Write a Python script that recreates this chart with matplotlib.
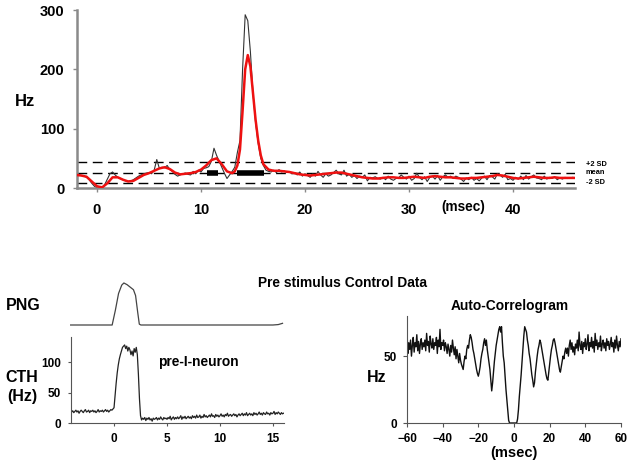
import numpy as np
import matplotlib
matplotlib.use("Agg")
import matplotlib.pyplot as plt

plt.rcParams['font.family'] = ['Liberation Sans', 'DejaVu Sans']
plt.rcParams['font.weight'] = 'bold'

# ---------------- top panel data ----------------
raw_t0, raw_dt = -2.0, 0.25
raw_hz = [
    22, 22, 21, 20, 18, 14, 8, 3,
    0, 0, 1, 6, 15, 24, 27, 22,
    18, 16, 14, 12, 11, 12, 14, 17,
    20, 22, 24, 25, 26, 24, 30, 48,
    33, 35, 34, 38, 31, 28, 23, 20,
    22, 24, 25, 23, 22, 28, 24, 30,
    27, 33, 34, 36, 45, 67, 55, 45,
    35, 25, 16, 22, 28, 35, 60, 80,
    200, 292, 282, 230, 160, 110, 75, 50,
    38, 30, 28, 27, 30, 26, 31, 27,
    29, 26, 27, 24, 26, 22, 27, 20,
    24, 21, 18, 24, 20, 28, 22, 18,
    24, 20, 22, 26, 30, 24, 22, 30,
    20, 23, 18, 21, 16, 20, 18, 22,
    12, 18, 17, 19, 16, 15, 18, 14,
    20, 15, 13, 16, 17, 22, 18, 15,
    20, 13, 16, 25, 18, 14, 19, 11,
    18, 20, 15, 21, 13, 19, 22, 18,
    20, 16, 20, 18, 15, 11, 17, 14,
    18, 13, 16, 12, 17, 20, 14, 21,
    19, 15, 24, 22, 18, 23, 14, 16,
    13, 18, 15, 20, 14, 21, 15, 19,
    22, 17, 16, 14, 20, 15, 18, 16,
    19, 14, 17, 15, 18, 16, 17, 18,
    17,
]

smooth_t = [-2, -1.5, -1, -0.5, 0, 0.5, 1, 1.5, 2, 2.5, 3, 3.5, 4, 4.5, 5, 5.5,
            6, 6.5, 7, 7.5, 8, 8.5, 9, 9.5, 10, 10.5, 11, 11.5, 12, 12.5, 13,
            13.25, 13.5, 13.75, 14, 14.25, 14.5, 14.75, 15, 15.25, 15.5, 15.75,
            16, 16.5, 17, 17.5, 18, 18.5, 19, 19.5, 20, 20.5, 21, 21.5, 22, 22.5,
            23, 23.5, 24, 24.5, 25, 25.5, 26, 26.5, 27, 27.5, 28, 28.5, 29, 29.5,
            30, 30.5, 31, 31.5, 32, 32.5, 33, 33.5, 34, 34.5, 35, 35.5, 36, 36.5,
            37, 37.5, 38, 38.5, 39, 39.5, 40, 40.5, 41, 41.5, 42, 42.5, 43, 43.5,
            44, 44.5, 45, 45.5, 46]
smooth_hz = [22, 21, 19, 11, 3, 1, 8, 18, 18, 14, 11, 12, 17, 22, 25, 29,
             33, 35, 32, 26, 23, 24, 25, 27, 31, 38, 47, 50, 40, 28, 25,
             28, 38, 65, 130, 200, 224, 205, 160, 115, 80, 55,
             40, 31, 29, 29, 28, 27, 25, 23, 22, 21, 22, 23, 24, 25,
             26, 26, 24, 22, 20, 18, 17, 16, 16, 17, 18, 18, 17, 17,
             18, 19, 18, 17, 19, 20, 19, 18, 18, 17, 16, 16, 17, 17,
             18, 19, 20, 22, 21, 19, 17, 16, 17, 18, 19, 18, 17, 17,
             18, 17, 17, 17, 17]

sd_levels = [43, 26, 9]
sd_labels = ['+2 SD', 'mean', '-2 SD']
bar_start = [10.6, 13.5]
bar_end = [11.6, 16.1]
bar_level = 26
top_xticks = [0, 10, 20, 30, 40]
top_yticks = [0, 100, 200, 300]

# ---------------- bottom-left data ----------------
png_t = [-4.0, -0.1, 0.2, 0.5, 0.8, 1.0, 1.3, 1.6, 1.9, 2.1, 2.3, 2.45, 2.6, 15.0, 15.5, 15.9]
png_v = [0, 0, 0.35, 0.75, 0.95, 1.0, 0.96, 0.9, 0.84, 0.7, 0.3, 0.02, 0, 0, 0.01, 0.04]

cth_t0, cth_dt = -4.0, 0.1
cth_hz = [
    18, 20, 17, 19, 21, 18, 20, 16, 19, 21,
    19, 17, 20, 22, 18, 19, 21, 17, 20, 19,
    21, 18, 20, 17, 19, 22, 18, 20, 19, 21,
    18, 20, 22, 19, 21, 18, 20, 22, 21, 23,
    25, 45, 65, 82, 95, 105, 112, 118, 124, 126,
    128, 122, 126, 118, 124, 120, 112, 118, 110, 122,
    116, 124, 112, 80, 40, 12, 5, 8, 6, 9,
    4, 8, 6, 9, 5, 7, 3, 8, 6, 7,
    9, 5, 8, 6, 10, 7, 5, 9, 7, 8,
    6, 9, 7, 11, 5, 8, 10, 6, 9, 7,
    10, 7, 9, 12, 6, 10, 8, 11, 7, 9,
    11, 8, 10, 7, 12, 9, 11, 8, 13, 9,
    10, 13, 8, 11, 9, 14, 10, 12, 9, 11,
    13, 10, 15, 11, 12, 9, 14, 11, 13, 10,
    12, 15, 11, 13, 10, 14, 12, 16, 11, 13,
    14, 11, 13, 15, 12, 14, 10, 13, 15, 12,
    14, 16, 12, 15, 13, 17, 12, 14, 16, 13,
    15, 12, 17, 14, 16, 13, 15, 18, 14, 16,
    13, 17, 15, 14, 18, 15, 16, 13, 17, 15,
    16, 19, 14, 17, 15, 18, 16, 14, 17, 15,
    16,
]
cth_xticks = [0, 5, 10, 15]
cth_yticks = [0, 50, 100]

# ---------------- bottom-right data ----------------
acg_t0, acg_dt = -60.0, 0.5
acg_hz = [
    68, 52, 60, 55, 62, 50, 58, 64, 53, 60, 57, 66, 54, 61, 52, 59, 63, 55, 60, 57,
    62, 54, 67, 58, 61, 53, 65, 59, 56, 63, 55, 60, 58, 64, 52, 62, 57, 70, 55, 60,
    58, 62, 54, 60, 57, 52, 59, 55, 50, 58, 53, 62, 56, 51, 57, 48, 55, 50, 45, 52,
    47, 44, 42, 40, 46, 50, 48, 55, 58, 56, 62, 66, 64, 60, 55, 52, 48, 44, 40, 37,
    35, 38, 42, 48, 52, 55, 60, 63, 58, 62, 55, 50, 45, 40, 32, 24, 30, 38, 46, 52,
    58, 62, 66, 70, 72, 68, 72, 60, 50, 45, 35, 25, 17, 8, 2, 0, 0, 0, 0, 0,
    0, 0, 0, 0, 3, 10, 20, 28, 36, 46, 56, 65, 72, 70, 68, 62, 58, 52, 48, 42,
    36, 32, 27, 30, 38, 44, 50, 55, 58, 62, 60, 56, 52, 48, 44, 40, 36, 33, 32, 38,
    44, 50, 55, 58, 62, 63, 60, 56, 52, 48, 44, 40, 38, 42, 46, 50, 48, 53, 56, 52,
    56, 50, 58, 62, 55, 60, 53, 57, 51, 59, 56, 62, 54, 68, 58, 55, 61, 52, 60, 57,
    63, 55, 59, 66, 54, 60, 57, 64, 56, 61, 53, 67, 58, 62, 55, 60, 57, 65, 54, 59,
    62, 56, 60, 54, 63, 58, 61, 55, 59, 64, 57, 60, 53, 62, 56, 65, 58, 54, 61, 57,
    63,
]
acg_xticks = [-60, -40, -20, 0, 20, 40, 60]
acg_yticks = [0, 50]

W, H = 632, 471
fig = plt.figure(figsize=(W / 100, H / 100), dpi=100)


def ax_px(left, top, right, bottom):
    return fig.add_axes([left / W, 1 - bottom / H, (right - left) / W, (bottom - top) / H])


def ftext(x, y, s, size, ha='center', va='center'):
    fig.text(x / W, 1 - y / H, s, fontsize=size, fontweight='bold', ha=ha, va=va)


# ---------------- top panel ----------------
ax = ax_px(77, 10, 575, 188)
rt = raw_t0 + raw_dt * np.arange(len(raw_hz))
for lvl in sd_levels:
    ax.axhline(lvl, color='black', lw=1.0, ls=(0, (7, 4)), zorder=1)
ax.plot(rt, raw_hz, color='#333333', lw=0.8, zorder=2)
ax.plot(smooth_t, smooth_hz, color='#ee1111', lw=1.8, zorder=3)
for s, e in zip(bar_start, bar_end):
    ax.plot([s, e], [bar_level, bar_level], color='black', lw=4, solid_capstyle='butt', zorder=4)
ax.set_xlim(-1.92, 45.96)
ax.set_ylim(0, 300)
ax.set_xticks(top_xticks)
ax.set_yticks(top_yticks)
for sp in ['top', 'right']:
    ax.spines[sp].set_visible(False)
for sp in ['left', 'bottom']:
    ax.spines[sp].set_color('#8a8a8a')
    ax.spines[sp].set_linewidth(1.8)
ax.tick_params(axis='x', length=3, width=1, color='#8a8a8a', labelsize=10.5, pad=8)
ax.tick_params(axis='y', length=3, width=1, color='#8a8a8a', labelsize=10.5, pad=6)
for lab in ax.get_xticklabels() + ax.get_yticklabels():
    lab.set_fontweight('bold')
ftext(25, 102, 'Hz', 12)
for lvl_y, s in zip([164.5, 173, 182.5], sd_labels):
    ftext(586, lvl_y, s, 5.3, ha='left')
ftext(463, 207, '(msec)', 9.8)

# ---------------- title ----------------
ftext(342, 283, 'Pre stimulus Control Data', 9.9)

# ---------------- PNG panel ----------------
axp = ax_px(70, 280, 284, 330)
axp.plot(png_t, png_v, color='#444444', lw=0.9)
axp.set_xlim(-4.06, 16.04)
axp.set_ylim(-0.119, 1.071)
axp.axis('off')
ftext(23, 306, 'PNG', 11.5)

# ---------------- CTH panel ----------------
axc = ax_px(71, 337, 284, 423)
ct = cth_t0 + cth_dt * np.arange(len(cth_hz))
axc.plot(ct, cth_hz, color='#222222', lw=0.9)
axc.set_xlim(-4.06, 16.04)
axc.set_ylim(0, 141)
axc.set_xticks(cth_xticks)
axc.set_yticks(cth_yticks)
for sp in ['top', 'right']:
    axc.spines[sp].set_visible(False)
for sp in ['left', 'bottom']:
    axc.spines[sp].set_color('#555555')
    axc.spines[sp].set_linewidth(0.8)
axc.tick_params(axis='both', length=2, width=0.8, color='#555555', labelsize=8.5, pad=5)
for lab in axc.get_xticklabels() + axc.get_yticklabels():
    lab.set_fontweight('bold')
ftext(22, 378, 'CTH', 11.5)
ftext(22, 397, '(Hz)', 11.5)
ftext(198, 362, 'pre-I-neuron', 9.9)

# ---------------- Auto-correlogram ----------------
axa = ax_px(407, 316, 621, 423)
at = acg_t0 + acg_dt * np.arange(len(acg_hz))
axa.plot(at, acg_hz, color='#111111', lw=1.0)
axa.set_xlim(-60, 60)
axa.set_ylim(0, 80)
axa.set_xticks(acg_xticks)
axa.set_yticks(acg_yticks)
for sp in ['top', 'right']:
    axa.spines[sp].set_visible(False)
for sp in ['left', 'bottom']:
    axa.spines[sp].set_color('#555555')
    axa.spines[sp].set_linewidth(0.8)
axa.tick_params(axis='both', length=3, width=0.8, color='#555555', labelsize=8.5, pad=4)
for lab in axa.get_xticklabels() + axa.get_yticklabels():
    lab.set_fontweight('bold')
ftext(510, 306, 'Auto-Correlogram', 9.9)
ftext(377, 378, 'Hz', 11.5)
ftext(514, 453, '(msec)', 10.5)

fig.savefig('out.png', dpi=100)
